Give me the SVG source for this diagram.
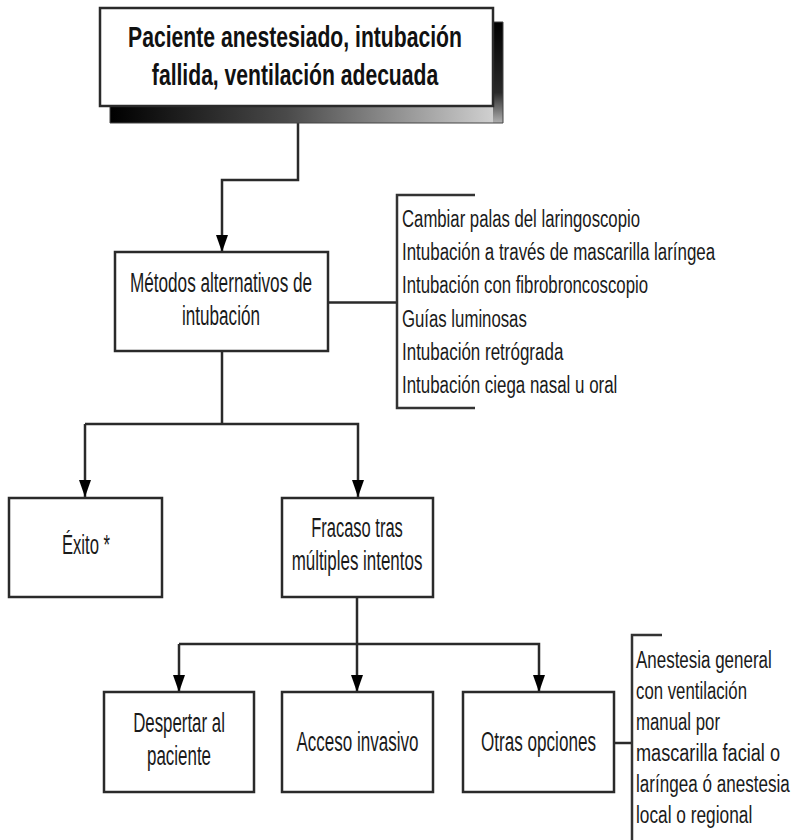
<svg xmlns="http://www.w3.org/2000/svg" width="794" height="840" viewBox="0 0 794 840">
  <style>
    .box { fill: #ffffff; stroke: #2a2a2a; stroke-width: 2.5; }
    .wire { fill: none; stroke: #2a2a2a; stroke-width: 2.5; }
    .bracket { fill: none; stroke: #333333; stroke-width: 2.5; }
    .title { font-family: "Liberation Sans", Arial, sans-serif; font-weight: bold; font-size: 30px; fill: #111; text-anchor: middle; }
    .lbl { font-family: "Liberation Sans", Arial, sans-serif; font-size: 27px; fill: #1a1a1a; text-anchor: middle; }
    .note { font-family: "Liberation Sans", Arial, sans-serif; font-size: 23.5px; fill: #1a1a1a; }
  </style>
  <defs>
    <linearGradient id="shadeBottom" x1="0" y1="0" x2="1" y2="0">
      <stop offset="0" stop-color="#000000"/>
      <stop offset="0.45" stop-color="#4a4a4a"/>
      <stop offset="1" stop-color="#d6d6d6"/>
    </linearGradient>
    <linearGradient id="shadeRight" x1="0" y1="0" x2="0" y2="1">
      <stop offset="0" stop-color="#000000"/>
      <stop offset="0.7" stop-color="#2a2a2a"/>
      <stop offset="1" stop-color="#b0b0b0"/>
    </linearGradient>
    <marker id="arrow" viewBox="0 0 17 12" refX="17" refY="6" markerWidth="17" markerHeight="12" markerUnits="userSpaceOnUse" orient="auto">
      <path d="M0,0 L17,6 L0,12 z" fill="#000"/>
    </marker>
  </defs>

  <!-- connectors -->
  <g id="connectors">
    <polyline class="wire" points="298,106 298,180 222,180 222,252" marker-end="url(#arrow)"/>
    <line class="wire" x1="222" y1="351" x2="222" y2="424"/>
    <polyline class="wire" points="85,424 358,424 358,497" marker-end="url(#arrow)"/>
    <line class="wire" x1="85" y1="424" x2="85" y2="497" marker-end="url(#arrow)"/>
    <line class="wire" x1="357" y1="597" x2="357" y2="692" marker-end="url(#arrow)"/>
    <polyline class="wire" points="179,644 539,644 539,692" marker-end="url(#arrow)"/>
    <line class="wire" x1="179" y1="644" x2="179" y2="692" marker-end="url(#arrow)"/>
    <line class="wire" x1="328" y1="302.5" x2="397" y2="302.5"/>
    <line class="wire" x1="614" y1="743" x2="632" y2="743"/>
  </g>

  <!-- start node with bevelled drop shadow -->
  <g id="node-inicio">
    <rect x="110" y="106" width="393" height="17" fill="url(#shadeBottom)"/>
    <rect x="493" y="22" width="10" height="101" fill="url(#shadeRight)"/>
    <path d="M110,106 L110,123 L503,123 L503,22 L493,22" fill="none" stroke="#444" stroke-width="1"/>
    <rect class="box" x="100" y="8" width="393" height="98"/>
    <text class="title" transform="translate(295,47) scale(0.7,1)" textLength="477" lengthAdjust="spacingAndGlyphs">Paciente anestesiado, intubación</text>
    <text class="title" transform="translate(295,85) scale(0.7,1)" textLength="409" lengthAdjust="spacingAndGlyphs">fallida, ventilación adecuada</text>
  </g>

  <g id="node-metodos">
    <rect class="box" x="115" y="252" width="213" height="99"/>
    <text class="lbl" transform="translate(221,292) scale(0.66,1)" textLength="276" lengthAdjust="spacingAndGlyphs">Métodos alternativos de</text>
    <text class="lbl" transform="translate(221,325) scale(0.66,1)" textLength="118" lengthAdjust="spacingAndGlyphs">intubación</text>
  </g>

  <g id="lista-metodos">
    <polyline class="bracket" points="475,195 397,195 397,408 475,408"/>
    <g transform="translate(402,0) scale(0.73,1)">
      <text class="note" x="0" y="227" textLength="326" lengthAdjust="spacingAndGlyphs">Cambiar palas del laringoscopio</text>
      <text class="note" x="0" y="260.2" textLength="429" lengthAdjust="spacingAndGlyphs">Intubación a través de mascarilla laríngea</text>
      <text class="note" x="0" y="293.4" textLength="337" lengthAdjust="spacingAndGlyphs">Intubación con fibrobroncoscopio</text>
      <text class="note" x="0" y="326.6" textLength="171" lengthAdjust="spacingAndGlyphs">Guías luminosas</text>
      <text class="note" x="0" y="359.8" textLength="221" lengthAdjust="spacingAndGlyphs">Intubación retrógrada</text>
      <text class="note" x="0" y="393" textLength="295" lengthAdjust="spacingAndGlyphs">Intubación ciega nasal u oral</text>
    </g>
  </g>

  <g id="node-exito">
    <rect class="box" x="9" y="498" width="153" height="99"/>
    <text class="lbl" transform="translate(86,554) scale(0.66,1)" textLength="73" lengthAdjust="spacingAndGlyphs">Éxito *</text>
  </g>

  <g id="node-fracaso">
    <rect class="box" x="282" y="498" width="151" height="99"/>
    <text class="lbl" transform="translate(357,537) scale(0.66,1)" textLength="139" lengthAdjust="spacingAndGlyphs">Fracaso tras</text>
    <text class="lbl" transform="translate(357,570) scale(0.66,1)" textLength="198" lengthAdjust="spacingAndGlyphs">múltiples intentos</text>
  </g>

  <g id="node-despertar">
    <rect class="box" x="104" y="692" width="150" height="100"/>
    <text class="lbl" transform="translate(179,732) scale(0.66,1)" textLength="139" lengthAdjust="spacingAndGlyphs">Despertar al</text>
    <text class="lbl" transform="translate(179,765) scale(0.66,1)" textLength="97" lengthAdjust="spacingAndGlyphs">paciente</text>
  </g>

  <g id="node-acceso">
    <rect class="box" x="282" y="692" width="151" height="100"/>
    <text class="lbl" transform="translate(357.5,751) scale(0.66,1)" textLength="185" lengthAdjust="spacingAndGlyphs">Acceso invasivo</text>
  </g>

  <g id="node-otras">
    <rect class="box" x="463" y="692" width="151" height="100"/>
    <text class="lbl" transform="translate(538.5,751) scale(0.66,1)" textLength="174" lengthAdjust="spacingAndGlyphs">Otras opciones</text>
  </g>

  <g id="lista-otras">
    <polyline class="bracket" points="662,635 632,635 632,840"/>
    <g transform="translate(636,0) scale(0.75,1)">
      <text class="note" x="0" y="668" textLength="181" lengthAdjust="spacingAndGlyphs">Anestesia general</text>
      <text class="note" x="0" y="699" textLength="148" lengthAdjust="spacingAndGlyphs">con ventilación</text>
      <text class="note" x="0" y="730" textLength="112" lengthAdjust="spacingAndGlyphs">manual por</text>
      <text class="note" x="0" y="761" textLength="192" lengthAdjust="spacingAndGlyphs">mascarilla facial o</text>
      <text class="note" x="0" y="792" textLength="205" lengthAdjust="spacingAndGlyphs">laríngea ó anestesia</text>
      <text class="note" x="0" y="823" textLength="155" lengthAdjust="spacingAndGlyphs">local o regional</text>
    </g>
  </g>
</svg>
